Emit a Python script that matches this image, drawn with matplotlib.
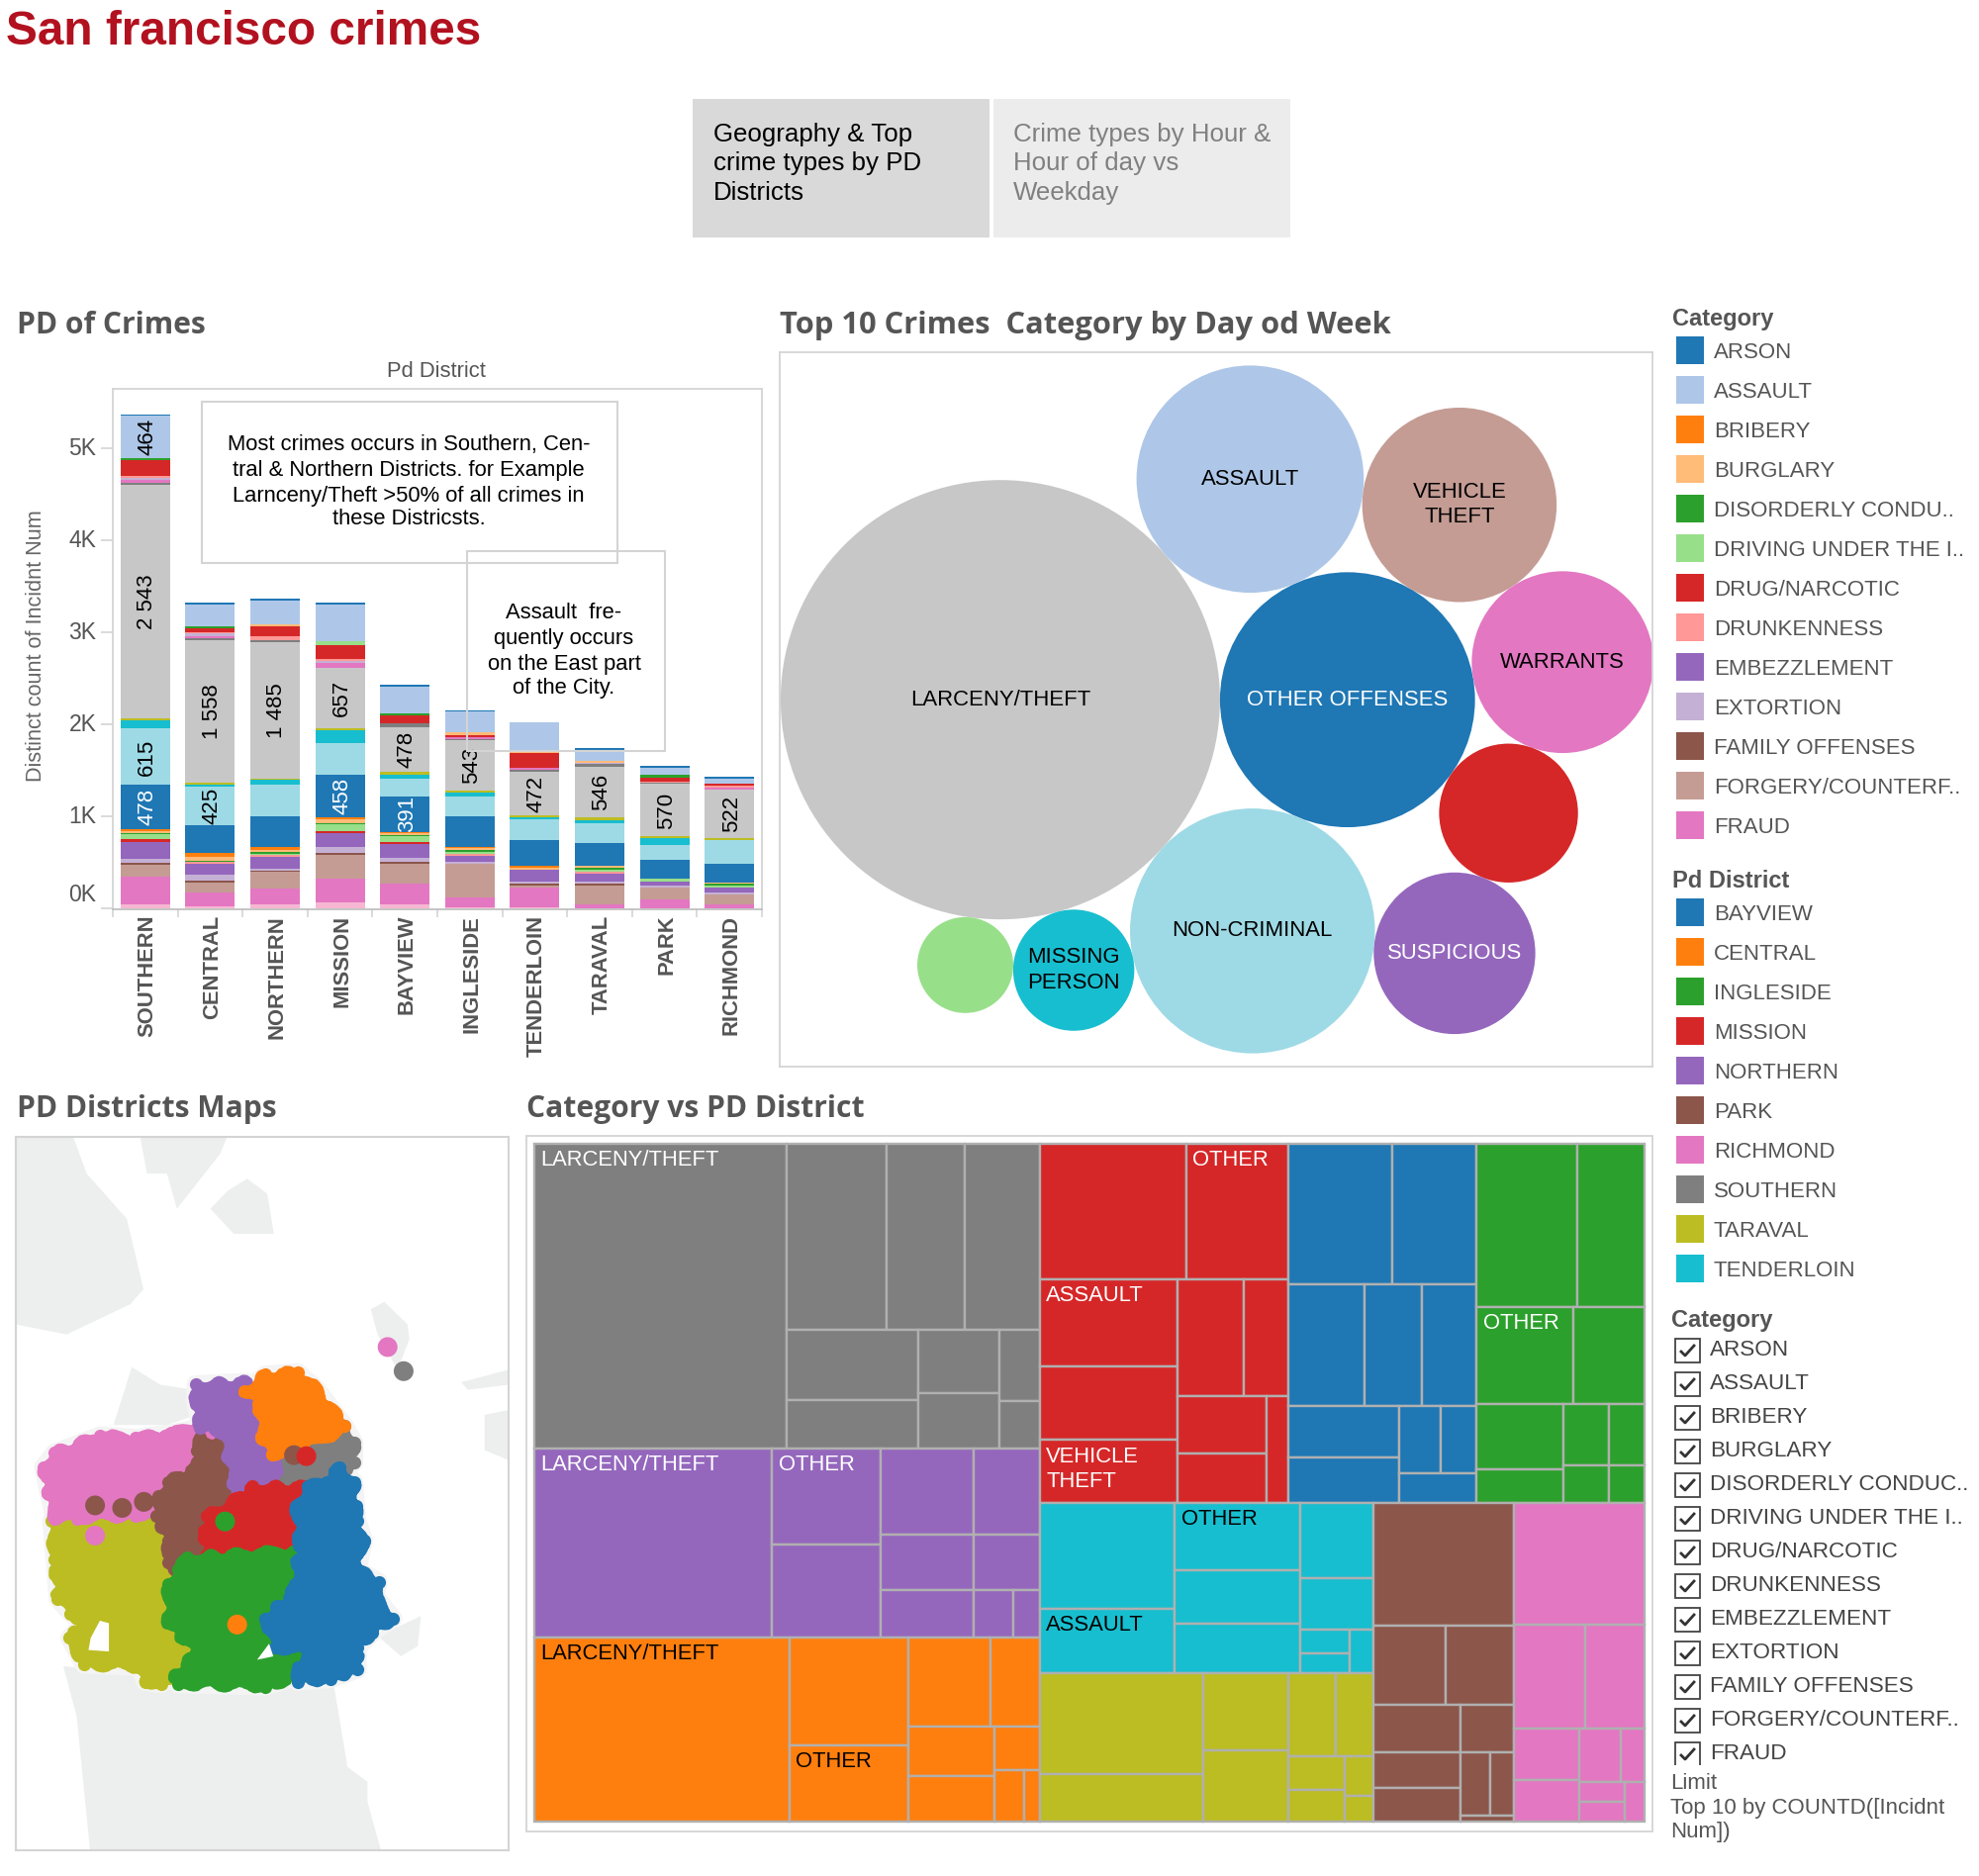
import math
import matplotlib
matplotlib.use('Agg')
import matplotlib.pyplot as plt
from matplotlib.patches import Rectangle, Circle, Polygon
from matplotlib.transforms import ScaledTranslation

plt.rcParams['font.family'] = ['Liberation Sans', 'DejaVu Sans']

W, H = 2000, 1896
GREY = '#555555'
FRAME = '#d4d4d4'

# ---- stacked bars
districts = ['SOUTHERN', 'CENTRAL', 'NORTHERN', 'MISSION', 'BAYVIEW',
             'INGLESIDE', 'TENDERLOIN', 'TARAVAL', 'PARK', 'RICHMOND']
stack_names = ['WEAPON', 'WARRANTS', 'VEHICLE THEFT', 'VANDALISM', 'TRESPASS', 'SUSPICIOUS',
               'STOLEN', 'SEX', 'SECONDARY', 'RUNAWAY', 'ROBBERY', 'PROSTITUTION',
               'OTHER', 'NONCRIM', 'MISSING', 'LIQUOR', 'LARCENY', 'KIDNAPPING',
               'FRAUD', 'EXTORTION', 'DRUNK', 'DRUG', 'DRIVING', 'DISORDERLY',
               'BURGLARY', 'ASSAULT', 'ARSON']
stack_colors = ['#f7b6d2', '#e377c2', '#c49c94', '#8c564b', '#c5b0d5', '#9467bd',
                '#ff9896', '#d62728', '#98df8a', '#2ca02c', '#ffbb78', '#ff7f0e',
                '#1f77b4', '#9edae5', '#17becf', '#bcbd22', '#c7c7c7', '#7f7f7f',
                '#e377c2', '#c5b0d5', '#ff9896', '#d62728', '#98df8a', '#2ca02c',
                '#ffbb78', '#aec7e8', '#1f77b4']
southern = [37, 303, 133, 18, 44, 185, 0, 30, 52, 15, 22, 18, 478, 615, 89, 18, 2543, 22, 30, 22, 22, 170, 0, 22, 0, 464, 15]
central = [15, 148, 115, 15, 67, 122, 15, 0, 0, 15, 41, 41, 303, 425, 18, 18, 1558, 22, 22, 22, 18, 44, 0, 22, 0, 237, 18]
northern = [37, 178, 174, 18, 22, 126, 18, 0, 18, 22, 22, 22, 344, 344, 44, 18, 1485, 22, 0, 0, 37, 107, 0, 0, 22, 259, 22]
mission = [59, 259, 259, 18, 67, 152, 0, 22, 78, 8, 41, 22, 458, 345, 148, 22, 657, 0, 44, 24, 24, 148, 48, 0, 0, 395, 22]
bayview = [43, 217, 222, 16, 49, 146, 0, 27, 65, 11, 16, 11, 391, 190, 43, 38, 478, 49, 0, 0, 0, 81, 0, 22, 0, 293, 22]
ingleside = [10, 99, 369, 0, 27, 65, 16, 0, 27, 22, 16, 16, 326, 221, 43, 22, 543, 16, 16, 0, 0, 22, 0, 0, 32, 226, 16]
tenderloin = [5, 213, 22, 22, 22, 130, 0, 0, 0, 0, 22, 22, 282, 228, 22, 16, 472, 27, 22, 0, 0, 163, 0, 0, 32, 293, 0]
taraval = [0, 38, 201, 22, 22, 87, 22, 0, 22, 22, 22, 0, 250, 217, 32, 32, 546, 32, 0, 11, 0, 0, 0, 0, 22, 119, 16]
park = [0, 87, 130, 0, 27, 38, 0, 0, 38, 0, 0, 0, 201, 168, 65, 22, 570, 16, 0, 0, 11, 43, 0, 27, 0, 81, 22]
richmond = [0, 33, 114, 0, 22, 54, 0, 0, 16, 22, 16, 0, 201, 261, 0, 22, 522, 0, 27, 0, 22, 16, 0, 0, 0, 54, 22]
stack_rows = [southern, central, northern, mission, bayview, ingleside, tenderloin, taraval, park, richmond]

bar_label_district = [0, 0, 0, 0, 1, 1, 2, 3, 3, 4, 4, 5, 6, 7, 8, 9]
bar_label_segment = ['LARCENY', 'NONCRIM', 'OTHER', 'ASSAULT', 'LARCENY', 'NONCRIM', 'LARCENY', 'LARCENY',
                     'OTHER', 'LARCENY', 'OTHER', 'LARCENY', 'LARCENY', 'LARCENY', 'LARCENY', 'LARCENY']
bar_label_text = ['2 543', '615', '478', '464', '1 558', '425', '1 485', '657',
                  '458', '478', '391', '543', '472', '546', '570', '522']
y_ticks = [0, 1000, 2000, 3000, 4000, 5000]
y_tick_labels = ['0K', '1K', '2K', '3K', '4K', '5K']

# ---- bubbles
bubble_names = ['LARCENY/THEFT', 'OTHER OFFENSES', 'ASSAULT', 'NON-CRIMINAL', 'VEHICLE\nTHEFT',
                'WARRANTS', '', 'SUSPICIOUS', 'MISSING\nPERSON', '']
bubble_counts = [9374, 3158, 2508, 2913, 1836, 1605, 937, 1268, 713, 447]
bubble_colors = ['#c7c7c7', '#1f77b4', '#aec7e8', '#9edae5', '#c49c94',
                 '#e377c2', '#d62728', '#9467bd', '#17becf', '#98df8a']
bubble_text = ['black', 'white', 'black', 'black', 'black', 'black', 'black', 'white', 'black', 'black']
# each later bubble touches two earlier ones, on one side of the line between them
bubble_touch_a = [None, None, 0, 0, 2, 4, 5, 3, 0, 0]
bubble_touch_b = [None, None, 1, 1, 1, 1, 1, 6, 3, 8]
bubble_side = [0, 0, -1, 1, -1, -1, -1, 1, 1, 1]

# ---- treemap, nested counts, each level splits the other way
southern_cells = [2543, [[615, 478, 464], [[302, 211], [170, 149], [94, 63]]]]
northern_cells = [1485, [345, 331], [[266, 189], [170, 121], [144, 62, 41]]]
central_cells = [1558, [425, 300], [[239, 147], [[140, 129], [65, [51, 27]]]]]
mission_cells = [[657, 458], [[397, 333, 287], [[254, 173], [[169, 146], 77]]]]
bayview_cells = [[478, 391], [306, 232, 223], [[188, 166], [[92, 79], 75]]]
ingleside_cells = [[543, 361], [310, 227], [[188, 97], [[93, 72], [56, 44]]]]
tenderloin_cells = [[472, 286], [277, 221, 204], [182, 124, [[40, 32], 34]]]
taraval_cells = [[546, 255], [216, 200], [[131, 103], [[64, 59], [37, 24]]]]
park_cells = [570, [190, 179], [[136, 101, 96], [85, [62, 51], 11]]]
richmond_cells = [522, [243, 205], [[109, 89], [[73, 42], [[30, 30], 26]]]]
district_cells = {'SOUTHERN': southern_cells, 'NORTHERN': northern_cells, 'CENTRAL': central_cells,
                  'MISSION': mission_cells, 'BAYVIEW': bayview_cells, 'INGLESIDE': ingleside_cells,
                  'TENDERLOIN': tenderloin_cells, 'TARAVAL': taraval_cells, 'PARK': park_cells,
                  'RICHMOND': richmond_cells}
district_tree = [['SOUTHERN', 'NORTHERN', 'CENTRAL'],
                 [['MISSION', 'BAYVIEW', 'INGLESIDE'], [['TENDERLOIN', 'TARAVAL'], 'PARK', 'RICHMOND']]]
district_colors = {'BAYVIEW': '#1f77b4', 'CENTRAL': '#ff7f0e', 'INGLESIDE': '#2ca02c', 'MISSION': '#d62728',
                   'NORTHERN': '#9467bd', 'PARK': '#8c564b', 'RICHMOND': '#e377c2', 'SOUTHERN': '#7f7f7f',
                   'TARAVAL': '#bcbd22', 'TENDERLOIN': '#17becf'}
tree_label_district = ['SOUTHERN', 'NORTHERN', 'NORTHERN', 'CENTRAL', 'CENTRAL', 'MISSION', 'MISSION', 'MISSION',
                       'INGLESIDE', 'TENDERLOIN', 'TENDERLOIN']
tree_label_count = [2543, 1485, 345, 1558, 300, 458, 397, 287, 310, 277, 286]
tree_label_text = ['LARCENY/THEFT', 'LARCENY/THEFT', 'OTHER', 'LARCENY/THEFT', 'OTHER', 'OTHER', 'ASSAULT',
                   'VEHICLE\nTHEFT', 'OTHER', 'OTHER', 'ASSAULT']
tree_label_color = ['white', 'white', 'white', 'black', 'black', 'white', 'white', 'white', 'white', 'black', 'black']

# ---- map outlines
land_shapes = [
    [(48, 97), (220, 97), (260, 170), (380, 260), (430, 400), (390, 430), (200, 490), (48, 470)],
    [(420, 97), (680, 97), (660, 130), (530, 240), (500, 170), (440, 170)],
    [(630, 240), (680, 205), (740, 180), (800, 210), (820, 290), (700, 290)],
    [(340, 670), (395, 555), (480, 590), (580, 600), (590, 650), (500, 670)],
    [(190, 1150), (1000, 1190), (1040, 1350), (1100, 1380), (1100, 1420), (1140, 1516), (270, 1516), (230, 1250)],
    [(1110, 440), (1150, 425), (1220, 470), (1225, 500), (1190, 560), (1130, 490)],
    [(1450, 650), (1522, 640), (1522, 740), (1450, 720)],
    [(1380, 585), (1522, 560), (1522, 590), (1400, 600)],
    [(1130, 1090), (1260, 1050), (1250, 1110), (1200, 1130)],
]
richmond_shape = [(115, 750), (150, 720), (230, 700), (290, 685), (400, 690), (510, 680), (590, 670), (660, 680),
                  (670, 700), (600, 760), (500, 800), (460, 840), (400, 850), (220, 855), (150, 855), (130, 800)]
taraval_shape = [(140, 860), (460, 845), (480, 900), (510, 960), (500, 1020), (530, 1090), (580, 1130), (520, 1180),
                 (480, 1195), (430, 1190), (410, 1160), (240, 1155), (195, 1100), (240, 1070), (200, 1050), (160, 1020), (150, 940)]
park_shape = [(600, 690), (655, 700), (700, 820), (610, 860), (615, 930), (530, 965), (500, 945), (500, 900),
              (465, 850), (470, 810), (500, 780), (590, 750), (590, 715)]
northern_shape = [(585, 580), (740, 575), (780, 620), (790, 690), (830, 730), (870, 740), (860, 780), (710, 810),
                  (670, 680), (600, 670), (585, 620)]
southern_shape = [(1045, 665), (1075, 700), (1075, 740), (1040, 760), (980, 790), (860, 785), (870, 730), (1000, 685)]
central_shape = [(735, 595), (800, 560), (900, 555), (960, 590), (1045, 665), (1000, 685), (880, 715), (820, 725),
                 (790, 690), (780, 620)]
mission_shape = [(760, 790), (930, 790), (895, 830), (905, 915), (620, 930), (610, 880), (620, 850), (700, 820)]
ingleside_shape = [(560, 935), (905, 920), (890, 990), (880, 1020), (800, 1060), (820, 1110), (950, 1130), (900, 1180),
                   (800, 1200), (530, 1195), (520, 1180), (585, 1130), (500, 1070), (500, 990), (530, 960)]
bayview_shape = [(1030, 750), (1075, 780), (1080, 830), (1085, 860), (1105, 900), (1085, 960), (1150, 985), (1140, 1015),
                 (1195, 1060), (1130, 1090), (1085, 1120), (1085, 1165), (1000, 1185), (900, 1190), (900, 1160), (945, 1130),
                 (830, 1120), (800, 1060), (880, 1010), (890, 990), (905, 910), (895, 830), (930, 790), (990, 780)]
map_shapes = [('TARAVAL', taraval_shape), ('RICHMOND', richmond_shape), ('PARK', park_shape), ('NORTHERN', northern_shape),
              ('SOUTHERN', southern_shape), ('CENTRAL', central_shape), ('MISSION', mission_shape),
              ('INGLESIDE', ingleside_shape), ('BAYVIEW', bayview_shape)]
hole_shapes = [[(290, 1065), (318, 1070), (318, 1128), (255, 1125), (262, 1100)],
               [(775, 1145), (812, 1112), (825, 1138)]]
map_dots_district = ['RICHMOND', 'SOUTHERN', 'PARK', 'PARK', 'PARK', 'RICHMOND', 'INGLESIDE', 'CENTRAL', 'PARK', 'MISSION']
map_dots_x = [1160, 1208, 285, 366, 431, 285, 674, 710, 880, 917]
map_dots_y = [515, 563, 830, 835, 823, 890, 862, 1067, 730, 732]

# ---- legends
category_legend = ['ARSON', 'ASSAULT', 'BRIBERY', 'BURGLARY', 'DISORDERLY CONDU..', 'DRIVING UNDER THE I..',
                   'DRUG/NARCOTIC', 'DRUNKENNESS', 'EMBEZZLEMENT', 'EXTORTION', 'FAMILY OFFENSES',
                   'FORGERY/COUNTERF..', 'FRAUD']
category_colors = ['#1f77b4', '#aec7e8', '#ff7f0e', '#ffbb78', '#2ca02c', '#98df8a', '#d62728', '#ff9896',
                   '#9467bd', '#c5b0d5', '#8c564b', '#c49c94', '#e377c2']
district_legend = ['BAYVIEW', 'CENTRAL', 'INGLESIDE', 'MISSION', 'NORTHERN', 'PARK', 'RICHMOND', 'SOUTHERN',
                   'TARAVAL', 'TENDERLOIN']
filter_items = ['ARSON', 'ASSAULT', 'BRIBERY', 'BURGLARY', 'DISORDERLY CONDUC..', 'DRIVING UNDER THE I..',
                'DRUG/NARCOTIC', 'DRUNKENNESS', 'EMBEZZLEMENT', 'EXTORTION', 'FAMILY OFFENSES',
                'FORGERY/COUNTERF..', 'FRAUD']


def px_axes(fig, x0, y0, x1, y1):
    return fig.add_axes([x0 / W, 1 - y1 / H, (x1 - x0) / W, (y1 - y0) / H])


def node_total(node):
    if isinstance(node, str):
        return node_total(district_cells[node])
    if isinstance(node, list):
        return sum(node_total(n) for n in node)
    return node


def layout(node, x0, y0, x1, y1, horizontal, district, out):
    if isinstance(node, str):
        layout(district_cells[node], x0, y0, x1, y1, horizontal, node, out)
        return
    if not isinstance(node, list):
        out.append((district, node, x0, y0, x1, y1))
        return
    total = node_total(node)
    pos = x0 if horizontal else y0
    for child in node:
        span = ((x1 - x0) if horizontal else (y1 - y0)) * node_total(child) / total
        if horizontal:
            layout(child, pos, y0, pos + span, y1, False, district, out)
        else:
            layout(child, x0, pos, x1, pos + span, True, district, out)
        pos += span


def pack_bubbles(radii):
    xs, ys = [0.0, radii[0] + radii[1]], [0.0, 0.0]
    for i in range(2, len(radii)):
        a, b = bubble_touch_a[i], bubble_touch_b[i]
        dx, dy = xs[b] - xs[a], ys[b] - ys[a]
        d = math.hypot(dx, dy)
        ra, rb = radii[a] + radii[i], radii[b] + radii[i]
        along = (d * d + ra * ra - rb * rb) / (2 * d)
        off = math.sqrt(max(ra * ra - along * along, 0)) * bubble_side[i]
        xs.append(xs[a] + (dx * along - dy * off) / d)
        ys.append(ys[a] + (dy * along + dx * off) / d)
    return xs, ys


def pull_in(shape):
    # the round strokes and dots grow the shape, so bring it back a bit
    return [(600 + (x - 600) * 0.97, 880 + (y - 880) * 0.97) for x, y in shape]


fig = plt.figure(figsize=(W / 100, H / 100), dpi=100, facecolor='white')

# ---- bar chart
ax = px_axes(fig, 114, 393, 770, 919)
bottoms = [0] * len(districts)
for s, name in enumerate(stack_names):
    vals = [row[s] for row in stack_rows]
    ax.bar(range(len(districts)), vals, 0.76, bottom=bottoms, color=stack_colors[s], linewidth=0)
    bottoms = [b + v for b, v in zip(bottoms, vals)]
for d, seg, txt in zip(bar_label_district, bar_label_segment, bar_label_text):
    s = stack_names.index(seg)
    row = stack_rows[d]
    ax.text(d + 0.03, sum(row[:s]) + row[s] / 2, txt, rotation=90, ha='center', va='center', fontsize=16,
            color='white' if seg == 'OTHER' else 'black')
ax.set_xlim(-0.5, 9.5)
ax.set_ylim(-16, 5646)
ax.set_yticks(y_ticks, y_tick_labels, fontsize=16.5, color=GREY)
ax.set_xticks(range(len(districts)), districts, rotation=90, fontsize=15.8, color=GREY, fontweight='bold')
ax.set_xticks([i - 0.5 for i in range(11)], minor=True)
ax.tick_params(axis='x', which='major', length=0, pad=4.2)
ax.tick_params(axis='x', which='minor', length=6, width=1.2, color=FRAME)
ax.tick_params(axis='y', length=9, width=1.2, color=FRAME, pad=3)
for i, lab in enumerate(ax.get_yticklabels()):
    up = 0.16 if i == 0 else 0.02
    lab.set_transform(lab.get_transform() + ScaledTranslation(0, up, fig.dpi_scale_trans))
for lab in ax.get_xticklabels():
    lab.set_transform(lab.get_transform() + ScaledTranslation(0.02, 0, fig.dpi_scale_trans))
for sp in ax.spines.values():
    sp.set_color(FRAME)
    sp.set_linewidth(1.3)
ax.spines['bottom'].set_color('#c0c0c0')

# ---- bubbles
ax = px_axes(fig, 788, 356, 1670, 1078)
ax.set_xlim(788, 1670)
ax.set_ylim(1078, 356)
ax.set_xticks([])
ax.set_yticks([])
for sp in ax.spines.values():
    sp.set_color(FRAME)
    sp.set_linewidth(1.3)
radii = [2.293 * math.sqrt(c) for c in bubble_counts]
bx, by = pack_bubbles(radii)
left = min(x - r for x, r in zip(bx, radii))
right = max(x + r for x, r in zip(bx, radii))
top = min(y - r for y, r in zip(by, radii))
bottom = max(y + r for y, r in zip(by, radii))
shift_x = (788 + 1670) / 2 - (left + right) / 2 + 1
shift_y = (356 + 1078) / 2 - (top + bottom) / 2
for x, y, r, c, name, tc in zip(bx, by, radii, bubble_colors, bubble_names, bubble_text):
    ax.add_patch(Circle((x + shift_x, y + shift_y), r, facecolor=c, edgecolor='none'))
    ax.text(x + shift_x, y + shift_y, name, ha='center', va='center', fontsize=15.9, color=tc, linespacing=1.27)

# ---- map
ax = px_axes(fig, 16, 1149, 514, 1870)
ax.set_xlim(48, 1522)
ax.set_ylim(1516, 97)
ax.set_xticks([])
ax.set_yticks([])
for sp in ax.spines.values():
    sp.set_color(FRAME)
    sp.set_linewidth(1.5)
for shape in land_shapes:
    ax.add_patch(Polygon(shape, closed=True, facecolor='#edefef', edgecolor='none', zorder=1))
for name, shape in map_shapes:
    ax.add_patch(Polygon(pull_in(shape), closed=True, facecolor='none', edgecolor='#f4f4f4', linewidth=13,
                         joinstyle='round', zorder=1.5))
for i, (name, shape) in enumerate(map_shapes):
    c = district_colors[name]
    shape = pull_in(shape)
    patch = Polygon(shape, closed=True, facecolor=c, edgecolor=c, linewidth=6, joinstyle='round', zorder=2 + i)
    patch.set_sketch_params(scale=3, length=45, randomness=5)
    ax.add_patch(patch)
    ax.scatter([p[0] for p in shape], [p[1] for p in shape], s=90, color=c, linewidths=0, zorder=2 + i)
for shape in hole_shapes:
    ax.add_patch(Polygon(pull_in(shape), closed=True, facecolor='white', edgecolor='none', zorder=20))
ax.scatter(map_dots_x, map_dots_y, s=207, color=[district_colors[d] for d in map_dots_district],
           linewidths=0, zorder=21)

# ---- treemap
ax = px_axes(fig, 539.5, 1156, 1662, 1841)
ax.set_xlim(0, 1)
ax.set_ylim(1, 0)
ax.axis('off')
cells = []
layout(district_tree, 0, 0, 1, 1, True, None, cells)
for district, count, x0, y0, x1, y1 in cells:
    ax.add_patch(Rectangle((x0, y0), x1 - x0, y1 - y0, facecolor=district_colors[district],
                           edgecolor='#b0b0b0', linewidth=1.7, clip_on=False))
for d, c, txt, tc in zip(tree_label_district, tree_label_count, tree_label_text, tree_label_color):
    cell = [k for k in cells if k[0] == d and k[1] == c][0]
    ax.annotate(txt, (cell[2], cell[3]), xytext=(4.5, -4.5), textcoords='offset points', ha='left', va='top',
                fontsize=15.8, color=tc, linespacing=1.25)

# ---- page furniture, in pixels
page = px_axes(fig, 0, 0, W, H)
page.set_xlim(0, W)
page.set_ylim(H, 0)
page.axis('off')
page.patch.set_alpha(0)
page.set_zorder(5)

page.text(6, 32, 'San francisco crimes', fontsize=34.4, fontweight='bold', color='#b2111f', va='center')
page.add_patch(Rectangle((700, 100), 300, 140, facecolor='#d9d9d9', edgecolor='none'))
page.add_patch(Rectangle((1004, 100), 300, 140, facecolor='#ececec', edgecolor='none'))
for y, a, b in zip([136, 165, 195], ['Geography & Top', 'crime types by PD', 'Districts'],
                   ['Crime types by Hour &', 'Hour of day vs', 'Weekday']):
    page.text(721, y, a, fontsize=18.6, color='black', va='center')
    page.text(1024, y, b, fontsize=18.6, color='#808080', va='center')

for x, y, t, size in [(17, 328.5, 'PD of Crimes', 21.6), (788, 328.5, 'Top 10 Crimes  Category by Day od Week', 22.2),
                      (17, 1120.5, 'PD Districts Maps', 21.6), (532, 1120.5, 'Category vs PD District', 21.6)]:
    page.text(x, y, t, fontsize=size, fontweight='bold', color=GREY, family='Open Sans', va='center')

page.text(441, 375, 'Pd District', fontsize=15.8, color=GREY, ha='center', va='center')
page.text(37, 653, 'Distinct count of Incidnt Num', fontsize=15.6, color='#666666', rotation=90, ha='center', va='center')

# frame round the treemap
page.add_patch(Rectangle((532, 1148), 1138, 703, facecolor='none', edgecolor=FRAME, linewidth=1.3))

# note boxes
page.add_patch(Rectangle((204, 406), 420, 163, facecolor='none', edgecolor=FRAME, linewidth=1.5))
page.add_patch(Rectangle((472, 557), 200, 202, facecolor='none', edgecolor=FRAME, linewidth=1.5))
note_one = ['Most crimes occurs in Southern, Cen-', 'tral & Northern Districts. for Example',
            'Larnceny/Theft >50% of all crimes in', 'these Districsts.']
note_two = ['Assault  fre-', 'quently occurs', 'on the East part', 'of the City.']
for y, t in zip([449, 475, 501, 525], note_one):
    page.text(413, y, t, fontsize=15.8, color='black', ha='center', va='center')
for y, t in zip([619.5, 646, 672, 696], note_two):
    page.text(570, y, t, fontsize=15.8, color='black', ha='center', va='center')

# colour legends
page.text(1690, 322, 'Category', fontsize=17, fontweight='bold', color=GREY, va='center')
for i, (t, c) in enumerate(zip(category_legend, category_colors)):
    y = 354 + i * 40
    page.add_patch(Rectangle((1694, y - 14), 28, 28, facecolor=c, edgecolor='none'))
    page.text(1732, y + 2, t, fontsize=16, color=GREY, va='center')
page.text(1690, 890, 'Pd District', fontsize=17, fontweight='bold', color=GREY, va='center')
for i, t in enumerate(district_legend):
    y = 922 + i * 40
    page.add_patch(Rectangle((1694, y - 14), 28, 28, facecolor=district_colors[t], edgecolor='none'))
    page.text(1732, y + 2, t, fontsize=16, color=GREY, va='center')

# filter list
page.text(1689, 1335, 'Category', fontsize=17, fontweight='bold', color=GREY, va='center')
for i, t in enumerate(filter_items):
    y = 1365 + i * 34.0
    page.add_patch(Rectangle((1693, y - 12), 25, 24, facecolor='white', edgecolor='#444444', linewidth=1.3))
    page.plot([1699, 1703, 1712], [y + 1, y + 5, y - 5], color='#333333', linewidth=2)
    page.text(1728, y, t, fontsize=16.2, color='#444444', va='center')
page.add_patch(Rectangle((1685, 1783.5), 40, 4, facecolor='white', edgecolor='none', zorder=6))
page.text(1688, 1802, 'Limit', fontsize=16, color=GREY, va='center')
page.text(1688, 1827, 'Top 10 by COUNTD([Incidnt', fontsize=16, color=GREY, va='center')
page.text(1688, 1852, 'Num])', fontsize=16, color=GREY, va='center')

fig.savefig('out.png', dpi=100)
